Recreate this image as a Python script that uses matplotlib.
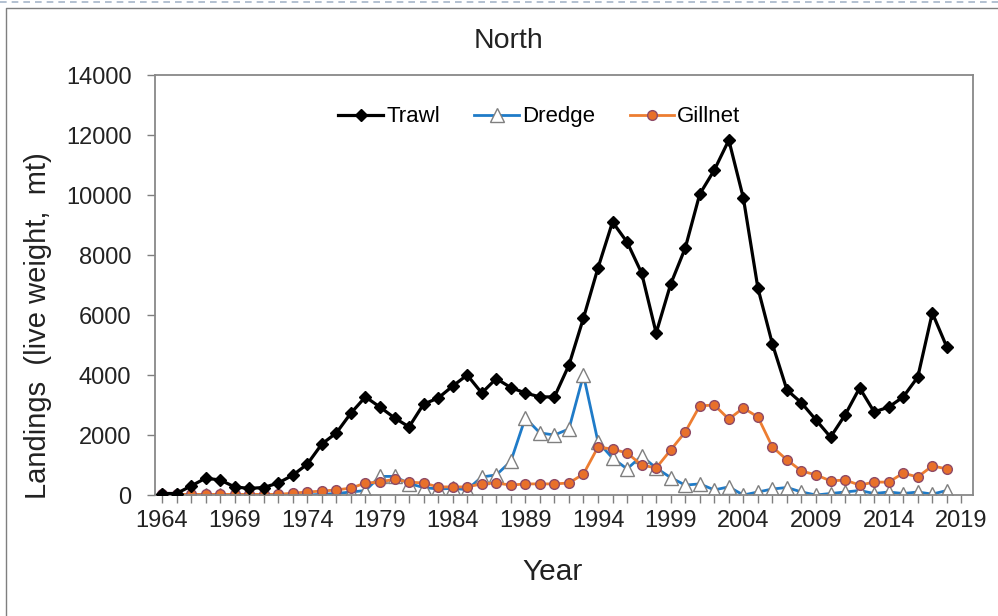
# North landings by gear type, 1964-2018

import matplotlib.pyplot as plt
from matplotlib.lines import Line2D
from matplotlib.ticker import MultipleLocator

years = list(range(1964, 2019))

trawl = [50, 50, 300, 560, 500, 270, 220, 250, 400, 660,
         1030, 1700, 2070, 2730, 3270, 2930, 2570, 2270, 3030, 3230,
         3630, 4000, 3400, 3880, 3580, 3400, 3270, 3270, 4330, 5900,
         7570, 9100, 8430, 7400, 5400, 7030, 8230, 10030, 10830, 11830,
         9900, 6900, 5030, 3500, 3070, 2500, 1930, 2670, 3570, 2770,
         2930, 3270, 3930, 6070, 4930]

dredge = [0, 0, 0, 0, 0, 0, 0, 0, 0, 0,
          0, 20, 50, 100, 150, 620, 620, 380, 250, 200,
          220, 180, 600, 670, 1120, 2570, 2070, 2000, 2200, 4000,
          1770, 1230, 870, 1300, 900, 580, 330, 370, 170, 270,
          0, 100, 200, 250, 100, 0, 50, 100, 150, 50,
          100, 50, 100, 30, 150]

gillnet = [20, 20, 20, 20, 20, 20, 20, 20, 20, 60,
           100, 130, 170, 230, 400, 430, 530, 430, 400, 270,
           270, 270, 370, 400, 330, 370, 370, 370, 400, 700,
           1600, 1530, 1400, 1000, 900, 1500, 2100, 2970, 3000, 2530,
           2900, 2600, 1600, 1170, 800, 670, 470, 500, 330, 430,
           430, 730, 600, 970, 870]

plt.rcParams['font.family'] = ['Liberation Sans', 'DejaVu Sans']

fig = plt.figure(figsize=(9.98, 6.16), dpi=100)
ax = fig.add_axes([155 / 998, 1 - 495 / 616, (973 - 155) / 998, (495 - 75) / 616])

# Lines
ax.plot(years, trawl, color='black', lw=2.3, marker='D', ms=6,
        mfc='black', mec='black', label='Trawl', zorder=3)
ax.plot(years, dredge, color='#1F7BC8', lw=2.0, marker='^', ms=9.5,
        mfc='white', mec='#7F7F7F', mew=1.0, label='Dredge', zorder=2)
ax.plot(years, gillnet, color='#ED7D31', lw=2.0, marker='o', ms=7,
        mfc='#E8702A', mec='#8E4A66', mew=1.0, label='Gillnet', zorder=2)

# Axes
ax.set_xlim(1963.52, 2019.8)
ax.set_ylim(0, 14000)
ax.set_xticks(range(1964, 2020, 5))
ax.xaxis.set_minor_locator(MultipleLocator(1))
ax.set_yticks(range(0, 14001, 2000))
ax.tick_params(axis='both', which='major', labelsize=17, colors='#7F7F7F',
               labelcolor='#222222', length=6, width=1)
ax.tick_params(axis='x', which='minor', colors='#7F7F7F', length=6, width=1)
ax.tick_params(axis='x', pad=5)
ax.tick_params(axis='y', pad=11)
for s in ax.spines.values():
    s.set_color('#888888')
    s.set_linewidth(1.3)

fig.text(509 / 998, 1 - 41 / 616, 'North', fontsize=20.5, ha='center', va='center', color='#222222')
fig.text(553 / 998, 1 - 572 / 616, 'Year', fontsize=21.5, ha='center', va='center', color='#222222')
fig.text(38 / 998, 1 - 326 / 616, 'Landings  (live weight,  mt)', fontsize=21,
         ha='center', va='center', rotation=90, color='#222222')

ax.legend(loc='upper center', bbox_to_anchor=(0.47, 0.973), ncol=3, frameon=False,
          fontsize=16, handlelength=2.0, columnspacing=1.55, handletextpad=0.15)

# Outer frame like the source screenshot
fig.add_artist(Line2D([0, 1], [1 - 2 / 616, 1 - 2 / 616], color='#A7B6CA', lw=1.2,
                      ls=(0, (4, 3)), transform=fig.transFigure))
fig.add_artist(Line2D([6 / 998, 6 / 998, 1], [0, 1 - 8 / 616, 1 - 8 / 616],
                      color='#7F7F7F', lw=1.0, transform=fig.transFigure))

fig.savefig('out.png', dpi=100)
